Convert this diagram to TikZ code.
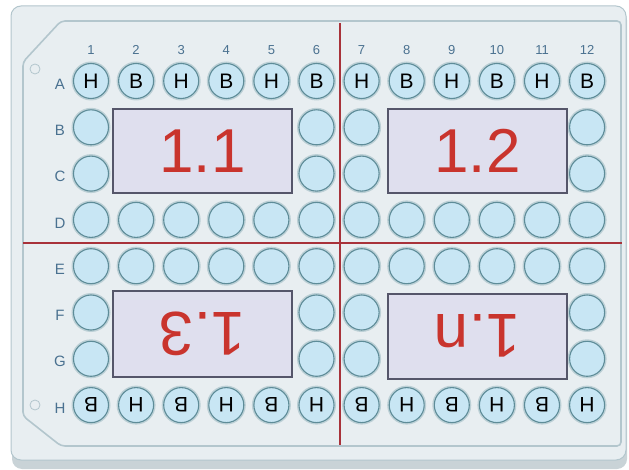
\documentclass[tikz,border=0pt]{standalone}
\usepackage{fontspec}
\setmainfont{Liberation Sans}
\definecolor{plate}{HTML}{E8EEF1}
\definecolor{plateedge}{HTML}{B3C6CD}
\definecolor{wellfill}{HTML}{C8E6F4}
\definecolor{welledge}{HTML}{5E8C98}
\definecolor{halo}{HTML}{BCD0D6}
\definecolor{boxfill}{HTML}{DFDFEE}
\definecolor{boxedge}{HTML}{55566A}
\definecolor{redtxt}{HTML}{C9342D}
\definecolor{redline}{HTML}{A8323A}
\definecolor{lbl}{HTML}{4A7190}
\definecolor{shadow}{HTML}{C9D3D7}
\tikzset{
  well/.style={circle, minimum size=35pt, inner sep=0pt, fill=wellfill, draw=welledge, line width=1.1pt, font=\fontsize{21}{21}\selectfont},
  wellhalo/.style={circle, minimum size=39pt, inner sep=0pt, fill=halo},
  plbox/.style={draw=boxedge, line width=1.6pt, fill=boxfill},
  bigtxt/.style={text=redtxt, font=\fontsize{62}{62}\selectfont},
  divider/.style={draw=redline, line width=2pt},
  collbl/.style={text=lbl, font=\fontsize{13}{13}\selectfont},
  rowlbl/.style={text=lbl, font=\fontsize{15}{15}\selectfont},
  pin/.style={circle, minimum size=10pt, inner sep=0pt, draw=plateedge, line width=0.8pt}
}
\begin{document}
\begin{tikzpicture}[x=1pt,y=-1pt]
\useasboundingbox (0,0) rectangle (629,470);
\fill[white] (0,0) rectangle (629,470);
% shadow and outer plate
\fill[shadow, rounded corners=10pt] (12,10) rectangle (627,469);
\draw[plateedge, fill=plate, line width=1pt, rounded corners=10pt] (11,6) rectangle (626,460);
% inner plate with chamfers
\draw[plateedge, fill=plate, line width=1.6pt, rounded corners=4pt]
  (23,62) -- (61,21) -- (621,21) -- (621,446) -- (61,446) -- (23,416) -- cycle;
\node[pin] (pinA) at (35,69) {};
\node[pin] (pinH) at (35,405) {};
% labels
\foreach \c in {1,...,12} {
  \node[collbl] (col\c) at ({91+45.1*(\c-1)},50) {\c};
}
\foreach \r/\L in {1/A,2/B,3/C,4/D,5/E,6/F,7/G,8/H} {
  \node[rowlbl] (row\L) at (60,{84+46.3*(\r-1)}) {\L};
}
% wells
\foreach \r in {1,...,8} {
  \foreach \c in {1,...,12} {
    \pgfmathtruncatemacro{\hide}{((\r==2 || \r==3 || \r==6 || \r==7) && ((\c>=2 && \c<=5) || (\c>=8 && \c<=11))) ? 1 : 0}
    \ifnum\hide=0
      \node[wellhalo] (h\r-\c) at ({91+45.1*(\c-1)},{81+46.3*(\r-1)}) {};
    \fi
  }
}
\foreach \r in {1,...,8} {
  \foreach \c in {1,...,12} {
    \pgfmathtruncatemacro{\hide}{((\r==2 || \r==3 || \r==6 || \r==7) && ((\c>=2 && \c<=5) || (\c>=8 && \c<=11))) ? 1 : 0}
    \pgfmathtruncatemacro{\odd}{mod(\c,2)}
    \ifnum\hide=0
      \ifnum\r=1
        \ifnum\odd=1
          \node[well] (w\r-\c) at ({91+45.1*(\c-1)},{81+46.3*(\r-1)}) {H};
        \else
          \node[well] (w\r-\c) at ({91+45.1*(\c-1)},{81+46.3*(\r-1)}) {B};
        \fi
      \else\ifnum\r=8
        \ifnum\odd=1
          \node[well, rotate=180] (w\r-\c) at ({91+45.1*(\c-1)},{81+46.3*(\r-1)}) {B};
        \else
          \node[well, rotate=180] (w\r-\c) at ({91+45.1*(\c-1)},{81+46.3*(\r-1)}) {H};
        \fi
      \else
        \node[well] (w\r-\c) at ({91+45.1*(\c-1)},{81+46.3*(\r-1)}) {};
      \fi\fi
    \fi
  }
}
% dividers
\coordinate (vt) at (340,23);
\coordinate (vb) at (340,445);
\coordinate (hl) at (23,243);
\coordinate (hr) at (622,243);
\draw[divider] (vt) -- (vb);
\draw[divider] (hl) -- (hr);
% boxes
\draw[plbox] (113,109) rectangle (292,193);
\draw[plbox] (388,109) rectangle (567,193);
\draw[plbox] (113,291) rectangle (292,377);
\draw[plbox] (388,294) rectangle (567,379);
\node[bigtxt] (t11) at (202.5,151) {1.1};
\node[bigtxt] (t12) at (477.5,151) {1.2};
\node[bigtxt, rotate=180] (t13) at (202.5,334) {1.3};
\node[bigtxt, rotate=180] (t1n) at (477.5,336) {1.n};
\end{tikzpicture}
\end{document}
